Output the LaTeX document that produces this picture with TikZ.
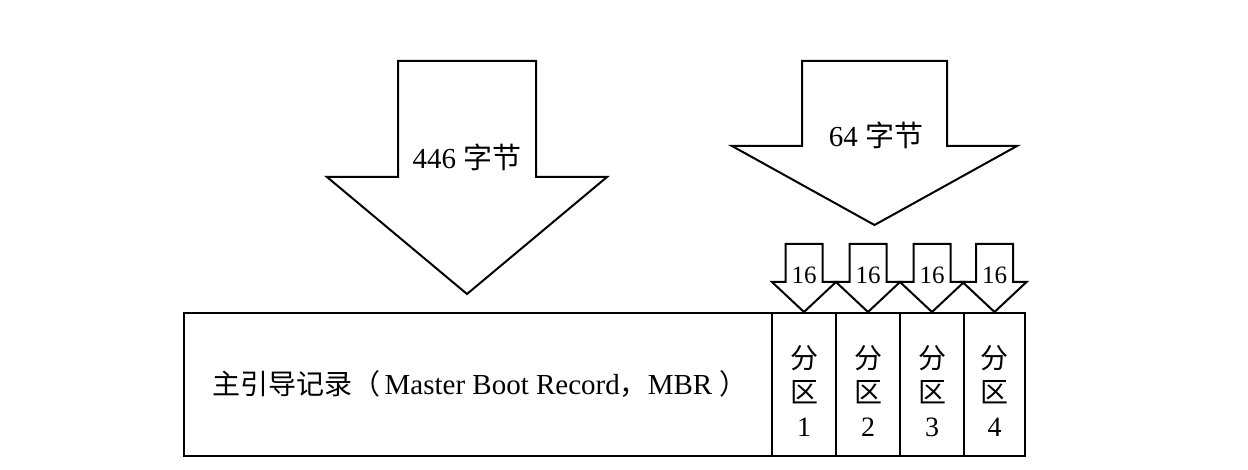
\documentclass[tikz,border=0pt]{standalone}
\usepackage{fontspec}
\setmainfont{Liberation Serif}
\newfontfamily\cjk{Noto Sans CJK SC}
\begin{document}
\begin{tikzpicture}[x=1pt,y=-1pt,
  shp/.style={draw=black,line width=2pt,fill=white,line join=miter},
  lbl/.style={inner sep=0pt,font=\fontsize{28}{34}\selectfont,align=center},
  big/.style={inner sep=0pt,font=\fontsize{29}{34}\selectfont},
  small/.style={inner sep=0pt,font=\fontsize{25}{28}\selectfont}]
\useasboundingbox (0,0) rectangle (1248,470);
% big arrow 1
\draw[shp] (398,61) -- (536,61) -- (536,177) -- (607,177) -- (467,294) -- (327,177) -- (398,177) -- cycle;
\node[big] (t446) at (467,157) {446 {\cjk 字节}};
% big arrow 2
\draw[shp] (802,61) -- (947,61) -- (947,146) -- (1017,146) -- (874.5,225) -- (732,146) -- (802,146) -- cycle;
\node[big] (t64) at (876,135) {64 {\cjk 字节}};
% small arrows
\foreach \c/\n in {804/a,868/b,932/c,994.5/d}{
  \draw[shp] (\c-18.5,244) -- (\c+18.5,244) -- (\c+18.5,282) -- (\c+32,282) -- (\c,312) -- (\c-32,282) -- (\c-18.5,282) -- cycle;
  \node[small] (s\n) at (\c,275) {16};
}
% main box
\draw[shp] (184,313) rectangle (1025,456);
\foreach \x in {772,836,900,964}{\draw[shp] (\x,313) -- (\x,456);}
\node[lbl] (mbr) at (480,384) {{\cjk 主引导记录（}\hspace{4pt}{\fontsize{29}{34}\selectfont Master Boot Record}{\cjk ，}{\fontsize{29}{34}\selectfont MBR}\hspace{7pt}{\cjk ）}};
\node[lbl] (p1) at (804,391) {{\cjk 分}\\{\cjk 区}\\1};
\node[lbl] (p2) at (868,391) {{\cjk 分}\\{\cjk 区}\\2};
\node[lbl] (p3) at (932,391) {{\cjk 分}\\{\cjk 区}\\3};
\node[lbl] (p4) at (994.5,391) {{\cjk 分}\\{\cjk 区}\\4};
\end{tikzpicture}
\end{document}
